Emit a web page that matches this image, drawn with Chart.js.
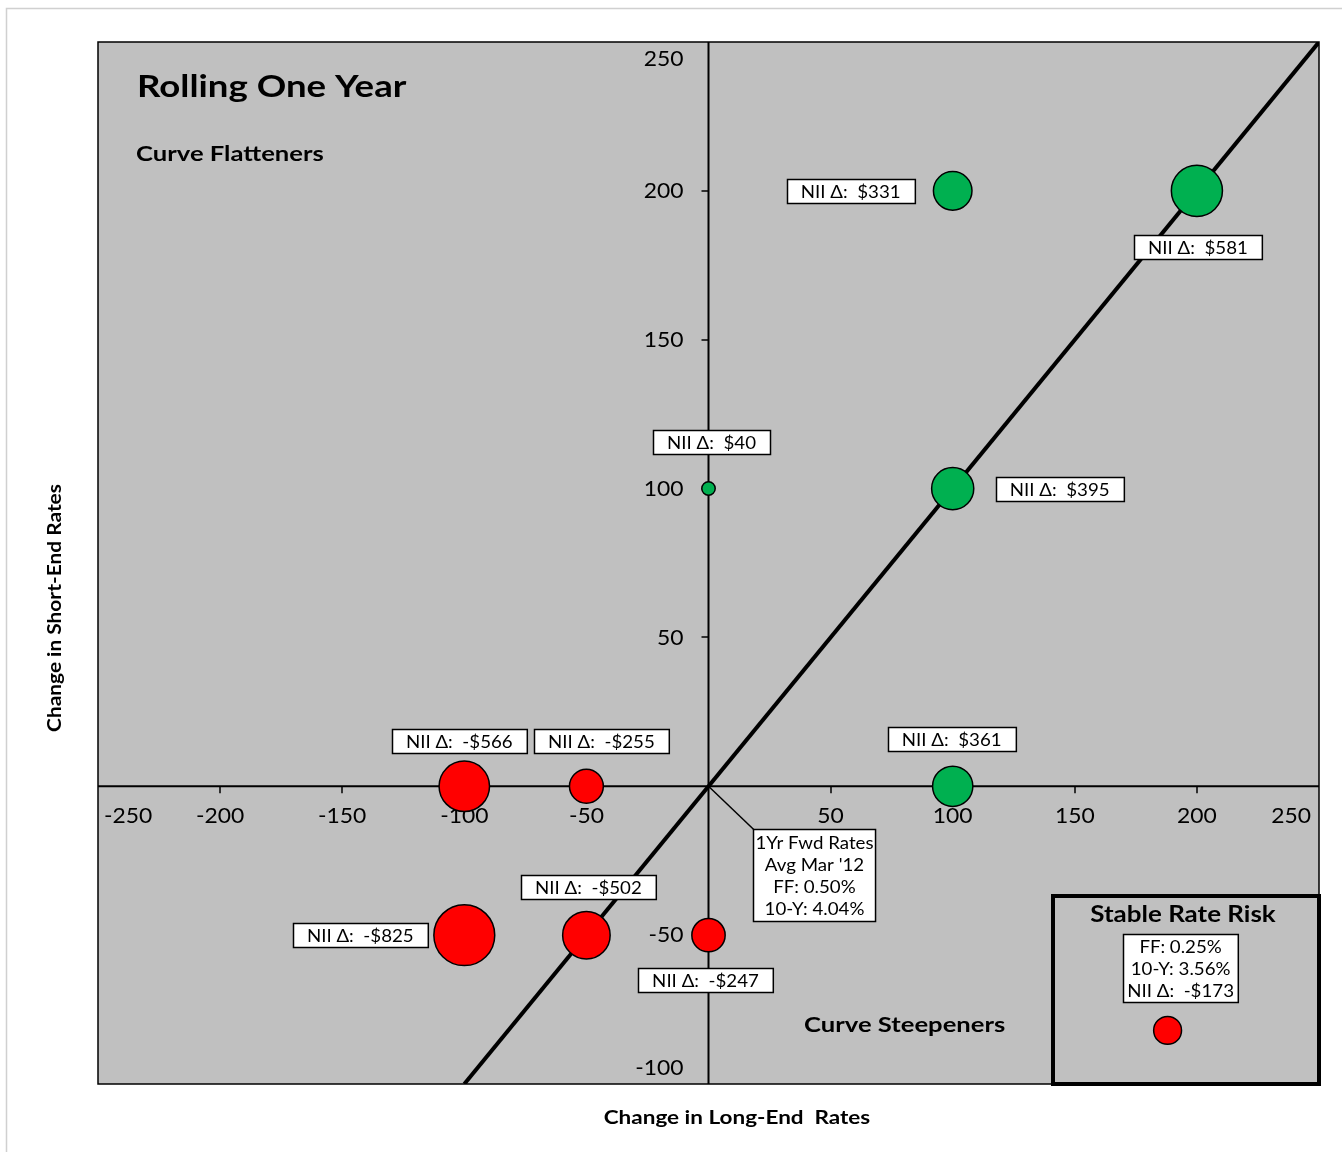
<!DOCTYPE html>
<html>
<head>
<meta charset="utf-8">
<script src="https://cdn.jsdelivr.net/npm/chart.js@4/dist/chart.umd.min.js"></script>
<style>
  html, body { margin: 0; padding: 0; background: #ffffff; overflow: hidden; }
  #wrap { width: 1342px; height: 1152px; }
  #chart { display: block; }
</style>
</head>
<body>
<div id="wrap"><canvas id="chart" width="1342" height="1152"></canvas></div>
<script>
// Rate scenarios (basis points) and the resulting change in net interest income
const longEndChange  = [100, 200,   0, 100, 100, -100,  -50,  -50, -100,    0];
const shortEndChange = [200, 200, 100, 100,   0,    0,    0,  -50,  -50,  -50];
const niiChange      = [331, 581,  40, 395, 361, -566, -255, -502, -825, -247];

// Stable-rate reference scenario shown in the inset box
const stableLongEnd = [188];
const stableShortEnd = [-82];
const stableNii = [-173];
const stableNotes = ['FF: 0.25%', '10-Y: 3.56%'];

// Forward-rate note at the origin
const forwardNotes = ['1Yr Fwd Rates', "Avg Mar '12", 'FF: 0.50%', '10-Y: 4.04%'];

// Parity line (equal change at both ends)
const parityLine = [{ x: -100, y: -100 }, { x: 250, y: 250 }];

// Axis tick labels
const xTickValues = [-250, -200, -150, -100, -50, 50, 100, 150, 200, 250];
const yTickValues = [-100, -50, 50, 100, 150, 200, 250];

// Where each NII label box sits relative to its bubble (pixels)
const labelOffsets = [
  [-102, 0], [1, 56], [3, -47], [107, 0], [-1, -47],
  [-5, -45], [15, -45], [2, -48], [-104, 0], [-3, 45]
];

const FONT = 'Lato, "Liberation Sans", sans-serif';
const GREEN = '#00B050';
const RED = '#FF0000';
const BOLD_STRETCH = 1.22;   // wide bold headings
const BOX_STRETCH = 1.1;     // label-box text
const TICK_STRETCH = 1.04;

function niiText(v) {
  return 'NII \u0394:  ' + (v < 0 ? '-' : '') + '$' + Math.abs(v);
}
function bubbleRadius(v) {
  return 1.06 * Math.sqrt(Math.abs(v));
}

const scenarioPoints = longEndChange.map((x, i) => ({ x, y: shortEndChange[i], r: bubbleRadius(niiChange[i]) }));
const stablePoints = stableLongEnd.map((x, i) => ({ x, y: stableShortEnd[i], r: bubbleRadius(stableNii[i]) }));

// draw text with a horizontal stretch factor
function wideText(ctx, text, x, y, sx) {
  ctx.save();
  ctx.translate(x, y);
  ctx.scale(sx, 1);
  ctx.fillText(text, 0, 0);
  ctx.restore();
}

function textBox(ctx, cx, cy, lines, opts) {
  const o = Object.assign({ size: 17, lineH: 22, padX: 14, padY: 1 }, opts || {});
  ctx.font = o.size + 'px ' + FONT;
  let w = 0;
  lines.forEach(t => { w = Math.max(w, ctx.measureText(t).width * BOX_STRETCH); });
  w = w + 2 * o.padX;
  const h = lines.length * o.lineH + 2 * o.padY;
  const x0 = Math.round(cx - w / 2) + 0.5, y0 = Math.round(cy - h / 2) + 0.5;
  ctx.fillStyle = '#ffffff';
  ctx.fillRect(x0, y0, w, h);
  ctx.strokeStyle = '#000000';
  ctx.lineWidth = 1.5;
  ctx.strokeRect(x0, y0, w, h);
  ctx.fillStyle = '#000000';
  ctx.textAlign = 'center';
  ctx.textBaseline = 'middle';
  lines.forEach((t, i) => wideText(ctx, t, cx, y0 + o.padY + o.lineH * (i + 0.5) + 1, BOX_STRETCH));
  return { x0, y0, w, h };
}

const decorations = {
  id: 'decorations',
  beforeDraw(chart) {
    const { ctx, chartArea: a } = chart;
    ctx.save();
    ctx.fillStyle = '#ffffff';
    ctx.fillRect(0, 0, chart.width, chart.height);
    // chart frame
    ctx.strokeStyle = '#d0d0d0';
    ctx.lineWidth = 1.5;
    ctx.strokeRect(6.5, 8.5, chart.width, chart.height);
    // plot area
    ctx.fillStyle = '#C0C0C0';
    ctx.fillRect(a.left, a.top, a.right - a.left, a.bottom - a.top);
    ctx.restore();
  },
  beforeDatasetsDraw(chart) {
    const { ctx, chartArea: a, scales: { x, y } } = chart;
    const x0 = x.getPixelForValue(0), y0 = y.getPixelForValue(0);
    ctx.save();
    ctx.strokeStyle = '#000';
    ctx.lineWidth = 2;
    ctx.beginPath();
    ctx.moveTo(a.left, y0); ctx.lineTo(a.right, y0);
    ctx.moveTo(x0, a.top); ctx.lineTo(x0, a.bottom);
    ctx.stroke();
    // tick marks
    ctx.lineWidth = 1.5;
    ctx.beginPath();
    xTickValues.forEach(v => {
      const px = Math.round(x.getPixelForValue(v));
      if (px > a.left + 2 && px < a.right - 2) { ctx.moveTo(px, y0); ctx.lineTo(px, y0 + 7); }
    });
    yTickValues.forEach(v => {
      const py = Math.round(y.getPixelForValue(v));
      if (py > a.top + 2 && py < a.bottom - 2) { ctx.moveTo(x0 - 7, py); ctx.lineTo(x0, py); }
    });
    ctx.stroke();
    // tick labels
    ctx.fillStyle = '#000';
    ctx.font = '22px ' + FONT;
    ctx.textBaseline = 'middle';
    ctx.textAlign = 'center';
    xTickValues.forEach(v => {
      const t = String(v);
      const w = ctx.measureText(t).width * TICK_STRETCH;
      let px = x.getPixelForValue(v);
      px = Math.min(Math.max(px, a.left + 6 + w / 2), a.right - 8 - w / 2);
      wideText(ctx, t, px, y0 + 30, TICK_STRETCH);
    });
    ctx.textAlign = 'right';
    yTickValues.forEach(v => {
      let py = y.getPixelForValue(v);
      py = Math.min(Math.max(py, a.top + 17), a.bottom - 16);
      wideText(ctx, String(v), x0 - 25, py, TICK_STRETCH);
    });
    // plot border
    ctx.lineWidth = 1.5;
    ctx.strokeStyle = '#000';
    ctx.strokeRect(a.left, a.top, a.right - a.left, a.bottom - a.top);
    ctx.restore();
  },
  afterDatasetsDraw(chart) {
    const { ctx, chartArea: a, scales: { x, y } } = chart;
    ctx.save();
    // NII labels
    niiChange.forEach((v, i) => {
      const px = x.getPixelForValue(longEndChange[i]);
      const py = y.getPixelForValue(shortEndChange[i]);
      textBox(ctx, px + labelOffsets[i][0], py + labelOffsets[i][1], [niiText(v)]);
    });
    // forward-rate note with leader line
    const ox = x.getPixelForValue(0), oy = y.getPixelForValue(0);
    ctx.strokeStyle = '#000';
    ctx.lineWidth = 1.5;
    ctx.beginPath();
    ctx.moveTo(ox, oy); ctx.lineTo(ox + 46, oy + 44);
    ctx.stroke();
    textBox(ctx, ox + 106, oy + 89, forwardNotes, { padX: 2, padY: 2 });

    // stable rate risk inset
    const bx = 1053, by = 896;
    ctx.lineWidth = 4;
    ctx.strokeStyle = '#000';
    ctx.strokeRect(bx, by, a.right - bx, a.bottom - by);
    ctx.fillStyle = '#000';
    ctx.font = 'bold 22px ' + FONT;
    ctx.textAlign = 'center';
    ctx.textBaseline = 'middle';
    wideText(ctx, 'Stable Rate Risk', 1183, 915, 1.18);
    const sx = x.getPixelForValue(stableLongEnd[0]), sy = y.getPixelForValue(stableShortEnd[0]);
    textBox(ctx, sx + 13, sy - 62, stableNotes.concat([niiText(stableNii[0])]), { padX: 4, padY: 1 });

    // titles
    ctx.fillStyle = '#000';
    ctx.textAlign = 'left';
    ctx.textBaseline = 'alphabetic';
    ctx.font = 'bold 30px ' + FONT;
    wideText(ctx, 'Rolling One Year', 137, 97, BOLD_STRETCH);
    ctx.font = 'bold 21px ' + FONT;
    wideText(ctx, 'Curve Flatteners', 136, 161, BOLD_STRETCH);
    wideText(ctx, 'Curve Steepeners', 804, 1032, BOLD_STRETCH);

    // axis titles
    ctx.font = 'bold 18px ' + FONT;
    ctx.textAlign = 'center';
    ctx.textBaseline = 'middle';
    wideText(ctx, 'Change in Long-End  Rates', 737, 1118, 1.25);
    ctx.translate(55, 608);
    ctx.rotate(-Math.PI / 2);
    wideText(ctx, 'Change in Short-End Rates', 0, 0, 1.16);
    ctx.restore();
  }
};

new Chart(document.getElementById('chart'), {
  type: 'bubble',
  data: {
    datasets: [
      {
        label: 'Scenarios',
        data: scenarioPoints,
        backgroundColor: ctx => (niiChange[ctx.dataIndex] >= 0 ? GREEN : RED),
        borderColor: '#000',
        borderWidth: 1.5,
        order: 1
      },
      {
        label: 'Stable Rate Risk',
        data: stablePoints,
        backgroundColor: ctx => (stableNii[ctx.dataIndex] >= 0 ? GREEN : RED),
        borderColor: '#000',
        borderWidth: 1.5,
        order: 1
      },
      {
        type: 'line',
        label: 'Parity',
        data: parityLine,
        borderColor: '#000',
        borderWidth: 4,
        pointRadius: 0,
        fill: false,
        order: 2
      }
    ]
  },
  options: {
    responsive: false,
    animation: false,
    events: [],
    layout: { autoPadding: false, padding: { left: 98, top: 42, right: 23, bottom: 68 } },
    scales: {
      x: { type: 'linear', min: -250, max: 250, display: false },
      y: { type: 'linear', min: -100, max: 250, display: false }
    },
    plugins: {
      legend: { display: false },
      tooltip: { enabled: false }
    }
  },
  plugins: [decorations]
});
</script>
</body>
</html>
